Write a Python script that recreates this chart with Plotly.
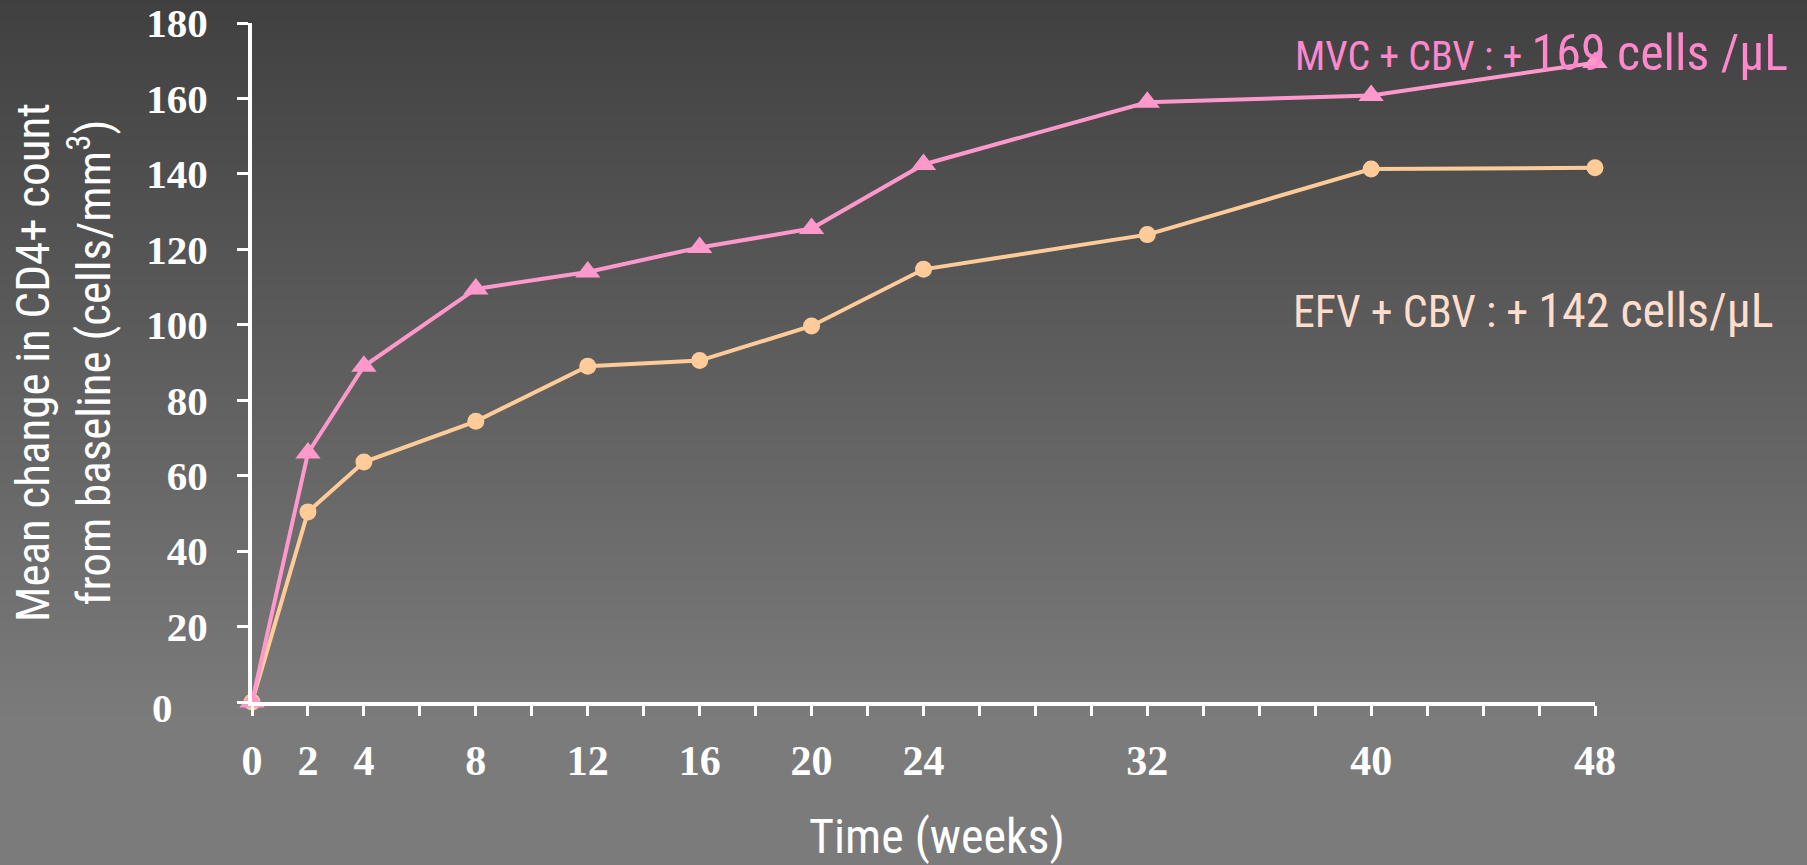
import plotly.graph_objects as go

# ---- data ----
weeks = [0, 2, 4, 8, 12, 16, 20, 24, 32, 40, 48]
mvc_cbv = [0, 66, 89, 109.5, 114, 120.5, 125.5, 142.5, 159, 160.8, 169.5]
efv_cbv = [0, 50.4, 63.6, 74.4, 89, 90.5, 99.7, 114.7, 123.9, 141.3, 141.6]
x_tick_vals = list(range(0, 50, 2))
x_labelled = [0, 2, 4, 8, 12, 16, 20, 24, 32, 40, 48]
y_tick_vals = [0, 20, 40, 60, 80, 100, 120, 140, 160, 180]
y_labelled = [20, 40, 60, 80, 100, 120, 140, 160, 180]
mvc_label = ("<span style='font-size:40px'>MVC + CBV : + </span>"
             "169 cells /μL")
efv_label = ("<span style='font-size:44px'>EFV + CBV : + </span>"
             "142 cells/μL")

W, H = 1807, 865
L, R, T, B = 251.5, 212, 23, 163
PW = W - L - R
PH = H - T - B

NARROW = "Liberation Sans Narrow, Arial Narrow, Roboto Condensed, Liberation Sans, sans-serif"
SERIF = "Liberation Serif, Times New Roman, serif"

fig = go.Figure()
fig.add_trace(go.Scatter(
    x=weeks, y=efv_cbv, mode="lines+markers", name="EFV + CBV",
    line=dict(color="#FFCC99", width=4),
    marker=dict(symbol="circle", size=17, color="#FFCC99"),
    cliponaxis=False))
fig.add_trace(go.Scatter(
    x=weeks, y=mvc_cbv, mode="lines+markers", name="MVC + CBV",
    line=dict(color="#FF99CC", width=4),
    marker=dict(symbol="triangle-up", size=22, color="#FF99CC"),
    cliponaxis=False))

# background gradient (dark top -> lighter bottom)
shapes = []
step = 5
for py in range(0, H, step):
    g = 64 + 0.0817 * min(py + step / 2, 722)
    y1 = (H - B - py) / PH
    y0 = (H - B - py - step - 1) / PH
    shapes.append(dict(type="rect", xref="paper", yref="paper",
                       x0=-L / PW - 0.01, x1=(W - L) / PW + 0.01, y0=y0, y1=y1,
                       fillcolor=f"rgb({g:.1f},{g:.1f},{g:.1f})",
                       line=dict(width=0), layer="below"))

annotations = [
    dict(text="0", xref="paper", yref="y", x=(174 - L) / PW, y=0,
         xanchor="right", yanchor="middle", yshift=-6, showarrow=False,
         font=dict(family=SERIF, size=41, color="white", weight="bold")),
    dict(text="Mean change in CD4+ count<br>from baseline (cells/mm<sup>3</sup>)",
         xref="paper", yref="paper", x=(62 - L) / PW, y=0.5, textangle=-90,
         xanchor="center", yanchor="middle", showarrow=False,
         font=dict(family=NARROW, size=47, color="white")),
    dict(text="Time (weeks)", xref="paper", yref="paper",
         x=(936.5 - L) / PW, y=(H - B - 836) / PH,
         xanchor="center", yanchor="middle", showarrow=False,
         font=dict(family=NARROW, size=48, color="white")),
    dict(text=mvc_label, xref="paper", yref="paper",
         x=(1790 - L) / PW, y=(H - B - 53) / PH,
         xanchor="right", yanchor="middle", showarrow=False,
         font=dict(family=NARROW, size=50, color="#FF88CC")),
    dict(text=efv_label, xref="paper", yref="paper",
         x=(1776 - L) / PW, y=(H - B - 310) / PH,
         xanchor="right", yanchor="middle", showarrow=False,
         font=dict(family=NARROW, size=48, color="#FFDDCC")),
]

fig.update_layout(
    width=W, height=H,
    margin=dict(l=L, r=R, t=T, b=B, autoexpand=False),
    paper_bgcolor="#7b7b7b", plot_bgcolor="rgba(0,0,0,0)",
    showlegend=False,
    shapes=shapes,
    annotations=annotations,
    xaxis=dict(range=[0, 48], tickmode="array", tickvals=x_labelled,
               ticktext=[str(v) for v in x_labelled],
               showline=True, linecolor="white", linewidth=4,
               ticks="outside", ticklen=10, tickwidth=3, tickcolor="white",
               minor=dict(tickmode="array", tickvals=x_tick_vals, ticks="outside",
                          ticklen=10, tickwidth=3, tickcolor="white", showgrid=False),
               tickfont=dict(family=SERIF, size=42, color="white", weight="bold"),
               showgrid=False, zeroline=False, ticklabelstandoff=9),
    yaxis=dict(range=[0, 180], tickmode="array", tickvals=y_labelled,
               ticktext=[str(v) for v in y_labelled],
               showline=True, linecolor="white", linewidth=4,
               ticks="outside", ticklen=11, tickwidth=3, tickcolor="white",
               minor=dict(tickmode="array", tickvals=y_tick_vals, ticks="outside",
                          ticklen=11, tickwidth=3, tickcolor="white", showgrid=False),
               tickfont=dict(family=SERIF, size=41, color="white", weight="bold"),
               showgrid=False, zeroline=False, ticklabelstandoff=21),
)

fig.write_html("out.html",
               config={"displayModeBar": False},
               post_script="document.body.style.margin='0';"
                           "document.body.style.background='#7b7b7b';")
